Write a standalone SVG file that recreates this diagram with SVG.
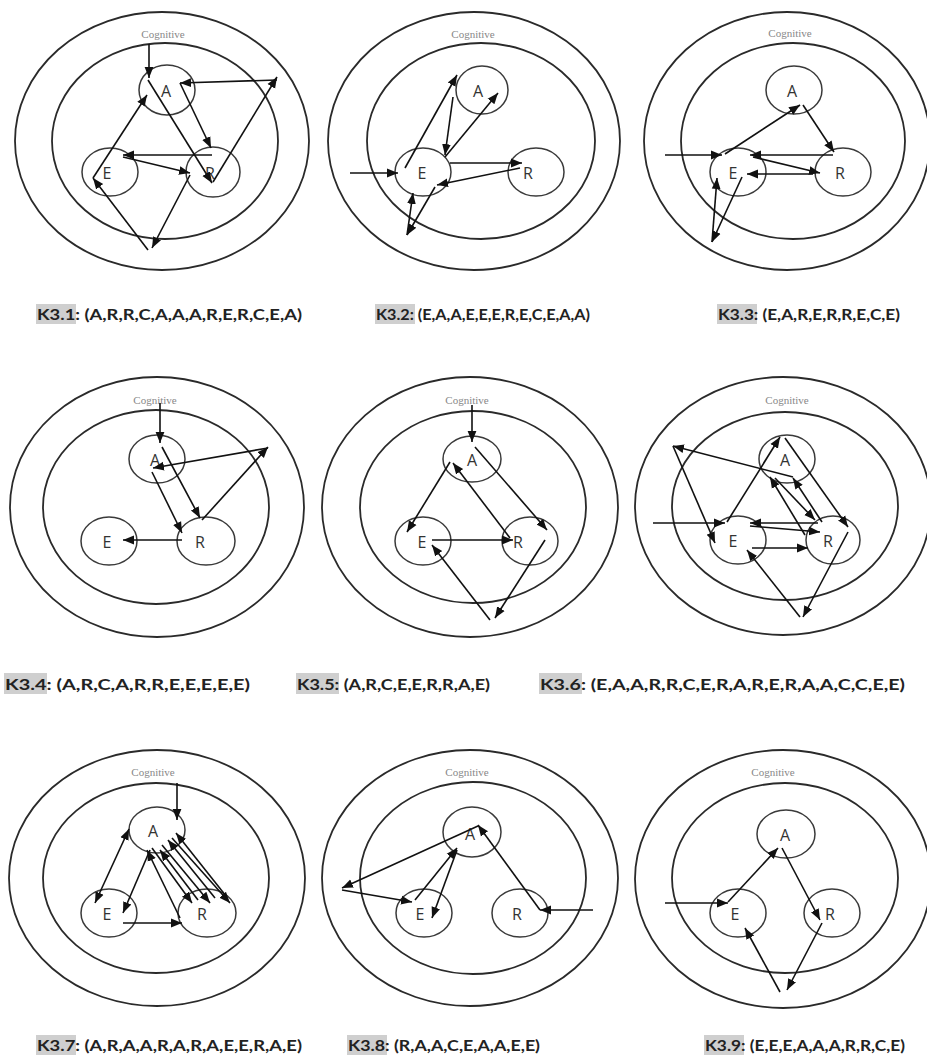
<svg xmlns="http://www.w3.org/2000/svg" width="927" height="1060" viewBox="0 0 927 1060">
<defs>
<marker id="ah" viewBox="0 0 10 10" refX="10" refY="5" markerWidth="11" markerHeight="11" markerUnits="userSpaceOnUse" orient="auto-start-reverse"><path d="M0,1 L10,5 L0,9 z" fill="#111"/></marker>
</defs>
<style>
.ring{fill:none;stroke:#2a2a2a;stroke-width:1.8}
.node{fill:none;stroke:#3a3a3a;stroke-width:1.5}
.nl{font-family:"Open Sans","Liberation Sans",sans-serif;font-size:16px;fill:#333;text-anchor:middle}
.cog{font-family:"Liberation Serif",serif;font-size:11px;fill:#888;text-anchor:middle}
.e{fill:none;stroke:#111;stroke-width:1.6;marker-end:url(#ah)}
.lbl{font-family:Lato,"Open Sans","Liberation Sans",sans-serif;font-size:16px;font-weight:bold;fill:#222}
.hl{fill:#cfcfcf}
</style>
<rect width="927" height="1060" fill="#fff"/>

<!-- Panel K3.1 -->
<g id="k31">
<ellipse class="ring" cx="162" cy="141" rx="147" ry="129"/>
<ellipse class="ring" cx="165" cy="141" rx="113" ry="98"/>
<text class="cog" x="163" y="38">Cognitive</text>
<g id="k31-A"><ellipse class="node" cx="167" cy="90" rx="28" ry="25"/><text class="nl" x="166" y="97">A</text></g>
<g id="k31-E"><ellipse class="node" cx="110" cy="172" rx="28" ry="24"/><text class="nl" x="107" y="179">E</text></g>
<g id="k31-R"><ellipse class="node" cx="213" cy="172" rx="27" ry="25"/><text class="nl" x="210" y="179">R</text></g>
</g>
<!-- Panel K3.2 -->
<g id="k32">
<ellipse class="ring" cx="474" cy="141" rx="146" ry="129"/>
<ellipse class="ring" cx="481" cy="141" rx="114" ry="98"/>
<text class="cog" x="473" y="38">Cognitive</text>
<g id="k32-A"><ellipse class="node" cx="482" cy="90" rx="26" ry="24"/><text class="nl" x="478" y="97">A</text></g>
<g id="k32-E"><ellipse class="node" cx="423" cy="172" rx="28" ry="24"/><text class="nl" x="422" y="179">E</text></g>
<g id="k32-R"><ellipse class="node" cx="536" cy="172" rx="28" ry="24"/><text class="nl" x="528" y="179">R</text></g>
</g>
<!-- Panel K3.3 -->
<g id="k33">
<ellipse class="ring" cx="787" cy="141" rx="143" ry="129"/>
<ellipse class="ring" cx="793" cy="141" rx="112" ry="98"/>
<text class="cog" x="790" y="37">Cognitive</text>
<g id="k33-A"><ellipse class="node" cx="794" cy="90" rx="28" ry="24"/><text class="nl" x="792" y="97">A</text></g>
<g id="k33-E"><ellipse class="node" cx="738" cy="172" rx="28" ry="24"/><text class="nl" x="733" y="179">E</text></g>
<g id="k33-R"><ellipse class="node" cx="843" cy="172" rx="28" ry="24"/><text class="nl" x="840" y="179">R</text></g>
</g>
<!-- Panel K3.4 -->
<g id="k34">
<ellipse class="ring" cx="157" cy="507" rx="147" ry="130"/>
<ellipse class="ring" cx="156" cy="507" rx="113" ry="97"/>
<text class="cog" x="155" y="404">Cognitive</text>
<g id="k34-A"><ellipse class="node" cx="157" cy="459" rx="28" ry="24"/><text class="nl" x="155" y="466">A</text></g>
<g id="k34-E"><ellipse class="node" cx="109" cy="541" rx="28" ry="24"/><text class="nl" x="107" y="548">E</text></g>
<g id="k34-R"><ellipse class="node" cx="206" cy="541" rx="29" ry="24"/><text class="nl" x="200" y="548">R</text></g>
</g>
<!-- Panel K3.5 -->
<g id="k35">
<ellipse class="ring" cx="470" cy="507" rx="148" ry="130"/>
<ellipse class="ring" cx="473" cy="507" rx="113" ry="96"/>
<text class="cog" x="467" y="404">Cognitive</text>
<g id="k35-A"><ellipse class="node" cx="472" cy="459" rx="29" ry="23"/><text class="nl" x="472" y="466">A</text></g>
<g id="k35-E"><ellipse class="node" cx="423" cy="541" rx="28" ry="24"/><text class="nl" x="422" y="548">E</text></g>
<g id="k35-R"><ellipse class="node" cx="530" cy="541" rx="28" ry="24"/><text class="nl" x="518" y="548">R</text></g>
</g>
<!-- Panel K3.6 -->
<g id="k36">
<ellipse class="ring" cx="783" cy="506" rx="148" ry="129"/>
<ellipse class="ring" cx="785" cy="506" rx="113" ry="94"/>
<text class="cog" x="787" y="404">Cognitive</text>
<g id="k36-A"><ellipse class="node" cx="787" cy="459" rx="28" ry="24"/><text class="nl" x="785" y="466">A</text></g>
<g id="k36-E"><ellipse class="node" cx="738" cy="540" rx="28" ry="24"/><text class="nl" x="733" y="547">E</text></g>
<g id="k36-R"><ellipse class="node" cx="833" cy="540" rx="27" ry="24"/><text class="nl" x="828" y="547">R</text></g>
</g>
<!-- Panel K3.7 -->
<g id="k37">
<ellipse class="ring" cx="157" cy="878" rx="148" ry="128"/>
<ellipse class="ring" cx="156" cy="878" rx="113" ry="95"/>
<text class="cog" x="153" y="776">Cognitive</text>
<g id="k37-A"><ellipse class="node" cx="157" cy="830" rx="28" ry="23"/><text class="nl" x="153" y="837">A</text></g>
<g id="k37-E"><ellipse class="node" cx="109" cy="913" rx="28" ry="24"/><text class="nl" x="107" y="920">E</text></g>
<g id="k37-R"><ellipse class="node" cx="207" cy="913" rx="29" ry="24"/><text class="nl" x="202" y="920">R</text></g>
</g>
<!-- Panel K3.8 -->
<g id="k38">
<ellipse class="ring" cx="470" cy="878" rx="148" ry="128"/>
<ellipse class="ring" cx="473" cy="878" rx="113" ry="96"/>
<text class="cog" x="467" y="776">Cognitive</text>
<g id="k38-A"><ellipse class="node" cx="472" cy="832" rx="29" ry="25"/><text class="nl" x="470" y="840">A</text></g>
<g id="k38-E"><ellipse class="node" cx="424" cy="913" rx="28" ry="24"/><text class="nl" x="420" y="920">E</text></g>
<g id="k38-R"><ellipse class="node" cx="520" cy="913" rx="28" ry="24"/><text class="nl" x="517" y="920">R</text></g>
</g>
<!-- Panel K3.9 -->
<g id="k39">
<ellipse class="ring" cx="783" cy="879" rx="148" ry="129"/>
<ellipse class="ring" cx="785" cy="878" rx="113" ry="95"/>
<text class="cog" x="773" y="776">Cognitive</text>
<g id="k39-A"><ellipse class="node" cx="786" cy="834" rx="29" ry="24"/><text class="nl" x="785" y="841">A</text></g>
<g id="k39-E"><ellipse class="node" cx="738" cy="913" rx="28" ry="24"/><text class="nl" x="735" y="920">E</text></g>
<g id="k39-R"><ellipse class="node" cx="832" cy="913" rx="28" ry="24"/><text class="nl" x="830" y="920">R</text></g>
</g>

<g id="connectors">
<!-- K3.1 -->
<path class="e" d="M149,44 L149,78"/>
<path class="e" d="M148,80 L212,183"/>
<path class="e" d="M180,83 L211,148"/>
<path class="e" d="M212,155 L123,155"/>
<path class="e" d="M123,157 L190,173"/>
<path class="e" d="M190,175 L152,248"/>
<path class="e" d="M148,250 L93,178"/>
<path class="e" d="M93,178 L147,95"/>
<path class="e" d="M213,182 L277,77"/>
<path class="e" d="M277,80 L180,83"/>
<!-- K3.2 -->
<path class="e" d="M350,173 L398,173"/>
<path class="e" d="M405,168 L457,75"/>
<path class="e" d="M453,97 L445,155"/>
<path class="e" d="M445,157 L498,93"/>
<path class="e" d="M450,163 L522,163"/>
<path class="e" d="M520,168 L437,185"/>
<path class="e" d="M435,187 L407,235"/>
<path class="e" d="M407,235 L413,193"/>
<!-- K3.3 -->
<path class="e" d="M665,155 L722,155"/>
<path class="e" d="M725,154 L800,105"/>
<path class="e" d="M803,105 L834,152"/>
<path class="e" d="M833,155 L750,155"/>
<path class="e" d="M753,157 L820,173"/>
<path class="e" d="M813,174 L747,174"/>
<path class="e" d="M742,177 L712,242"/>
<path class="e" d="M712,242 L717,178"/>
<!-- K3.4 -->
<path class="e" d="M160,403 L160,443"/>
<path class="e" d="M162,447 L200,518"/>
<path class="e" d="M202,520 L268,447"/>
<path class="e" d="M268,448 L153,468"/>
<path class="e" d="M152,472 L182,533"/>
<path class="e" d="M182,540 L123,540"/>
<!-- K3.5 -->
<path class="e" d="M472,405 L472,442"/>
<path class="e" d="M475,447 L547,530"/>
<path class="e" d="M545,540 L495,618"/>
<path class="e" d="M490,620 L432,545"/>
<path class="e" d="M432,540 L513,540"/>
<path class="e" d="M510,538 L453,463"/>
<path class="e" d="M450,462 L407,532"/>
<!-- K3.6 -->
<path class="e" d="M653,523 L725,523"/>
<path class="e" d="M727,522 L780,437"/>
<path class="e" d="M785,438 L848,527"/>
<path class="e" d="M848,532 L803,617"/>
<path class="e" d="M800,617 L747,550"/>
<path class="e" d="M752,548 L808,548"/>
<path class="e" d="M805,535 L770,477"/>
<path class="e" d="M775,478 L815,520"/>
<path class="e" d="M822,522 L793,478"/>
<path class="e" d="M818,523 L750,523"/>
<path class="e" d="M750,526 L820,532"/>
<path class="e" d="M793,477 L673,446"/>
<path class="e" d="M673,446 L715,543"/>
<!-- K3.7 -->
<path class="e" d="M177,783 L177,820"/>
<path class="e" style="marker-start:url(#ah)" d="M129,829 L95,903"/>
<path class="e" d="M150,850 L123,913"/>
<path class="e" d="M123,923 L182,923"/>
<path class="e" d="M180,918 L147,850"/>
<path class="e" d="M152,848 L192,903"/>
<path class="e" d="M162,845 L210,903"/>
<path class="e" d="M172,838 L230,903"/>
<path class="e" d="M198,900 L160,850"/>
<path class="e" d="M215,898 L168,840"/>
<path class="e" d="M226,896 L176,833"/>
<!-- K3.8 -->
<path class="e" d="M593,910 L540,910"/>
<path class="e" d="M540,910 L478,825"/>
<path class="e" d="M478,826 L342,888"/>
<path class="e" d="M342,890 L412,902"/>
<path class="e" d="M415,900 L457,848"/>
<path class="e" d="M457,850 L432,918"/>
<!-- K3.9 -->
<path class="e" d="M665,903 L728,903"/>
<path class="e" d="M728,902 L778,848"/>
<path class="e" d="M782,848 L820,920"/>
<path class="e" d="M822,923 L787,990"/>
<path class="e" d="M780,992 L745,928"/>
</g>

<g id="captions">
<rect class="hl" x="36" y="304" width="40" height="20"/>
<text class="lbl" x="37" y="320" textLength="265" lengthAdjust="spacingAndGlyphs">K3.1: (A,R,R,C,A,A,A,R,E,R,C,E,A)</text>
<rect class="hl" x="375" y="304" width="40" height="20"/>
<text class="lbl" x="376" y="320" textLength="214" lengthAdjust="spacingAndGlyphs">K3.2: (E,A,A,E,E,E,R,E,C,E,A,A)</text>
<rect class="hl" x="717" y="304" width="40" height="20"/>
<text class="lbl" x="718" y="320" textLength="182" lengthAdjust="spacingAndGlyphs">K3.3: (E,A,R,E,R,R,E,C,E)</text>
<rect class="hl" x="4" y="673" width="43" height="21"/>
<text class="lbl" x="5" y="690" textLength="245" lengthAdjust="spacingAndGlyphs">K3.4: (A,R,C,A,R,R,E,E,E,E,E)</text>
<rect class="hl" x="296" y="673" width="43" height="21"/>
<text class="lbl" x="297" y="690" textLength="193" lengthAdjust="spacingAndGlyphs">K3.5: (A,R,C,E,E,R,R,A,E)</text>
<rect class="hl" x="539" y="673" width="43" height="21"/>
<text class="lbl" x="540" y="690" textLength="365" lengthAdjust="spacingAndGlyphs">K3.6: (E,A,A,R,R,C,E,R,A,R,E,R,A,A,C,C,E,E)</text>
<rect class="hl" x="36" y="1035" width="40" height="20"/>
<text class="lbl" x="37" y="1051" textLength="265" lengthAdjust="spacingAndGlyphs">K3.7: (A,R,A,A,R,A,R,A,E,E,R,A,E)</text>
<rect class="hl" x="347" y="1035" width="40" height="20"/>
<text class="lbl" x="348" y="1051" textLength="192" lengthAdjust="spacingAndGlyphs">K3.8: (R,A,A,C,E,A,A,E,E)</text>
<rect class="hl" x="704" y="1035" width="40" height="20"/>
<text class="lbl" x="705" y="1051" textLength="200" lengthAdjust="spacingAndGlyphs">K3.9: (E,E,E,A,A,A,R,R,C,E)</text>
</g>
</svg>
